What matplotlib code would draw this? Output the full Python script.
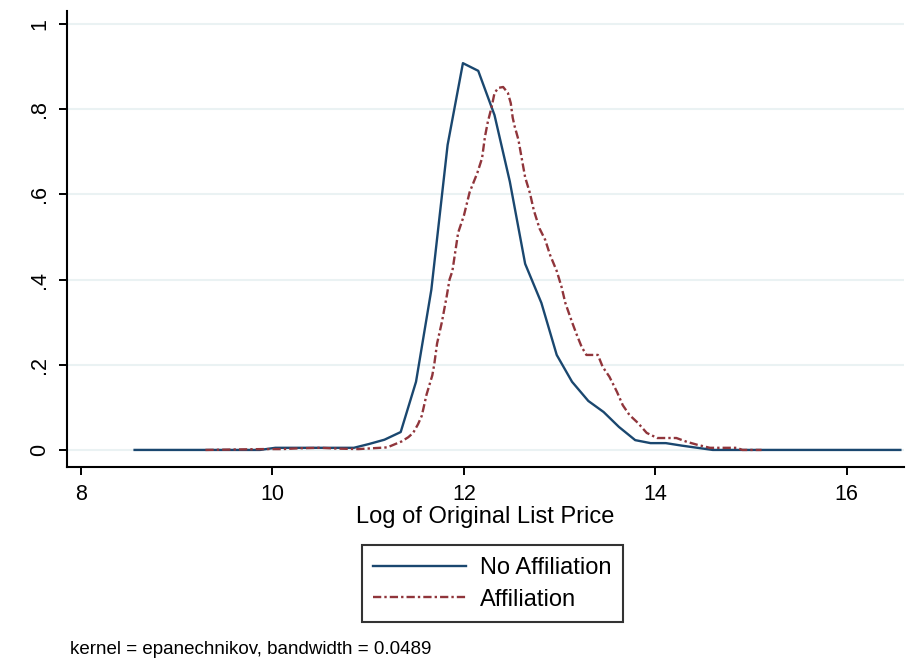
import numpy as np
import matplotlib
matplotlib.use("Agg")
import matplotlib.pyplot as plt

# kernel density estimates
x_no = [8.56, 8.72, 8.89, 9.05, 9.21, 9.38, 9.54, 9.70, 9.87, 10.03,
        10.19, 10.36, 10.52, 10.68, 10.85, 11.01, 11.17, 11.34, 11.50, 11.66,
        11.83, 11.99, 12.15, 12.32, 12.48, 12.64, 12.81, 12.97, 13.13, 13.30,
        13.46, 13.62, 13.79, 13.95, 14.11, 14.28, 14.44, 14.60, 14.77, 14.93,
        15.09, 15.26, 15.42, 15.58, 15.75, 15.91, 16.07, 16.24, 16.40, 16.56]
y_no = [0, 0, 0, 0, 0, 0, 0, 0, 0, 0.005,
        0.005, 0.005, 0.005, 0.005, 0.005, 0.014, 0.024, 0.042, 0.16, 0.376,
        0.716, 0.908, 0.89, 0.786, 0.63, 0.437, 0.345, 0.223, 0.16, 0.115,
        0.089, 0.054, 0.023, 0.016, 0.016, 0.010, 0.005, 0, 0, 0,
        0, 0, 0, 0, 0, 0, 0, 0, 0, 0]

x_aff = [9.30, 9.60, 9.90, 10.10, 10.30, 10.50, 10.70, 10.90, 11.05, 11.20,
         11.35, 11.42, 11.47, 11.52, 11.56, 11.61, 11.67, 11.69, 11.72, 11.77,
         11.82, 11.85, 11.88, 11.94, 12.00, 12.06, 12.14, 12.19, 12.22, 12.25,
         12.29, 12.32, 12.36, 12.41, 12.46, 12.49, 12.51, 12.53, 12.57, 12.60,
         12.64, 12.69, 12.73, 12.79, 12.85, 12.90, 12.97, 13.02, 13.06, 13.13,
         13.18, 13.23, 13.28, 13.40, 13.45, 13.52, 13.60, 13.66, 13.73, 13.82,
         13.91, 14.02, 14.22, 14.33, 14.44, 14.57, 14.85, 14.91, 15.11]
y_aff = [0, 0.001, 0.002, 0.002, 0.004, 0.005, 0.003, 0.002, 0.004, 0.006,
         0.02, 0.03, 0.04, 0.06, 0.08, 0.13, 0.175, 0.20, 0.25, 0.30,
         0.36, 0.40, 0.42, 0.51, 0.55, 0.605, 0.65, 0.685, 0.735, 0.77,
         0.805, 0.838, 0.85, 0.852, 0.838, 0.814, 0.78, 0.76, 0.728, 0.69,
         0.64, 0.603, 0.563, 0.52, 0.493, 0.458, 0.42, 0.383, 0.345, 0.30,
         0.27, 0.242, 0.223, 0.223, 0.195, 0.172, 0.136, 0.105, 0.082, 0.063,
         0.04, 0.028, 0.028, 0.019, 0.012, 0.005, 0.005, 0, 0]

x_ticks = [8, 10, 12, 14, 16]
y_ticks = [0, 0.2, 0.4, 0.6, 0.8, 1.0]
y_labels = ["0", ".2", ".4", ".6", ".8", "1"]

plt.rcParams['font.family'] = ['Liberation Sans', 'DejaVu Sans']

fig = plt.figure(figsize=(9.07, 6.62), dpi=100)
ax = fig.add_axes([0.0739, 0.2946, 0.923, 0.6885])

for y in y_ticks:
    ax.axhline(y, color="#eaf2f3", lw=1.5, zorder=0)

ax.plot(x_no, y_no, color="#1a476f", lw=1.7, label="No Affiliation")
ax.plot(x_aff, y_aff, color="#90353b", lw=1.7, linestyle=(0, (3.5, 1.3, 1, 1.3)),
        label="Affiliation")

ax.set_xlim(7.854, 16.6)
ax.set_ylim(-0.04, 1.03)
ax.set_xticks(x_ticks)
ax.set_yticks(y_ticks)
ax.set_yticklabels(y_labels, rotation=90, va="center")
ax.tick_params(labelsize=15.5, length=6, width=1.4, direction="out", pad=6)
for s in ["top", "right"]:
    ax.spines[s].set_visible(False)
for s in ["left", "bottom"]:
    ax.spines[s].set_linewidth(1.5)

ax.set_xlabel("Log of Original List Price", fontsize=17, labelpad=1)

leg = ax.legend(loc="upper center", bbox_to_anchor=(0.508, -0.172), ncol=1,
                fontsize=17, frameon=True, fancybox=False, edgecolor="black",
                handlelength=3.9, handletextpad=0.6, borderpad=0.5,
                labelspacing=0.4, borderaxespad=0)
leg.get_frame().set_linewidth(1.5)

fig.text(0.077, 0.012, "kernel = epanechnikov, bandwidth = 0.0489", fontsize=13.5)

fig.savefig("out.png", dpi=100, facecolor="white")
